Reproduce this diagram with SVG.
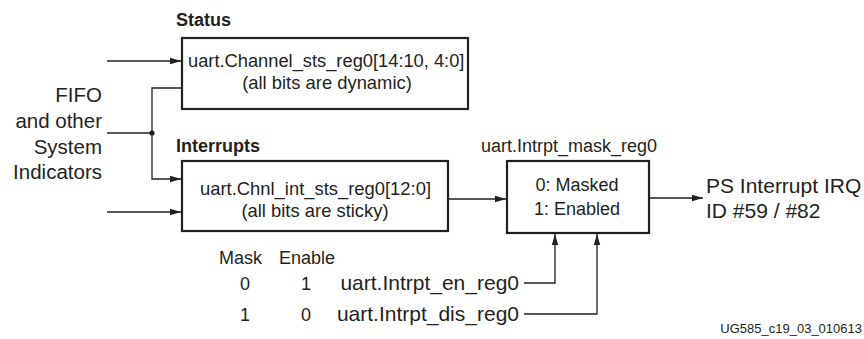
<svg xmlns="http://www.w3.org/2000/svg" width="864" height="339" viewBox="0 0 864 339">
<defs>
<marker id="ah" markerWidth="12" markerHeight="8" refX="11" refY="4" orient="auto" markerUnits="userSpaceOnUse">
<path d="M0,0.8 L11,4 L0,7.2 Z" fill="#231f20"/>
</marker>
<style>
text{font-family:"Liberation Sans",Arial,sans-serif;fill:#231f20}
.box{fill:#fff;stroke:#231f20;stroke-width:2.2}
.wire{fill:none;stroke:#231f20;stroke-width:1.3}
.arr{marker-end:url(#ah)}
.t18{font-size:18px}
.bx{font-size:18.4px}
.b{font-weight:bold}
.mid{text-anchor:middle}
.end{text-anchor:end}
</style>
</defs>
<rect width="864" height="339" fill="#fff"/>
<g id="connectors">
<line class="wire arr" x1="107" y1="61" x2="181" y2="61"/>
<polyline class="wire arr" points="181,88 152,88 152,179 181,179"/>
<line class="wire" x1="107" y1="133" x2="152" y2="133"/>
<circle cx="152" cy="133" r="2.6" fill="#231f20"/>
<line class="wire arr" x1="107" y1="212" x2="181" y2="212"/>
<line class="wire arr" x1="448" y1="199" x2="506" y2="199"/>
<line class="wire arr" x1="649" y1="198" x2="703" y2="198"/>
<polyline class="wire arr" points="524,283 555,283 555,234"/>
<polyline class="wire arr" points="524,314 597,314 597,234"/>
</g>
<g id="fifo">
<text x="102" y="102" class="end" font-size="20.5">FIFO</text>
<text x="102" y="128" class="end" font-size="20.5">and other</text>
<text x="102" y="153.5" class="end" font-size="20.5">System</text>
<text x="102" y="179" class="end" font-size="20.5">Indicators</text>
</g>
<g id="status">
<text x="176" y="26" class="t18 b">Status</text>
<rect class="box" x="182" y="38" width="286" height="71"/>
<text x="188" y="66.5" font-size="18.3">uart.Channel_sts_reg0[14:10, 4:0]</text>
<text x="327" y="88.5" class="bx mid">(all bits are dynamic)</text>
</g>
<g id="interrupts">
<text x="176" y="152" class="t18 b">Interrupts</text>
<rect class="box" x="182" y="161" width="266" height="70"/>
<text x="315.5" y="195" class="bx mid">uart.Chnl_int_sts_reg0[12:0]</text>
<text x="315" y="217" class="bx mid">(all bits are sticky)</text>
</g>
<g id="mask">
<text x="481" y="152" class="t18">uart.Intrpt_mask_reg0</text>
<rect class="box" x="507" y="161" width="142" height="72"/>
<text x="577" y="191" class="t18 mid">0: Masked</text>
<text x="577" y="215" class="t18 mid">1: Enabled</text>
</g>
<g id="irq">
<text x="706" y="193" font-size="21">PS Interrupt IRQ</text>
<text x="706" y="218" font-size="21">ID #59 / #82</text>
</g>
<g id="table">
<text x="219" y="264" class="t18">Mask</text>
<text x="279" y="264" class="t18">Enable</text>
<text x="245" y="290" class="t18 mid">0</text>
<text x="306" y="290" class="t18 mid">1</text>
<text x="245" y="321" class="t18 mid">1</text>
<text x="306" y="321" class="t18 mid">0</text>
<text x="519" y="290" class="end" font-size="21">uart.Intrpt_en_reg0</text>
<text x="519" y="321" class="end" font-size="21">uart.Intrpt_dis_reg0</text>
</g>
<text x="862" y="333" class="end" font-size="13">UG585_c19_03_010613</text>
</svg>
